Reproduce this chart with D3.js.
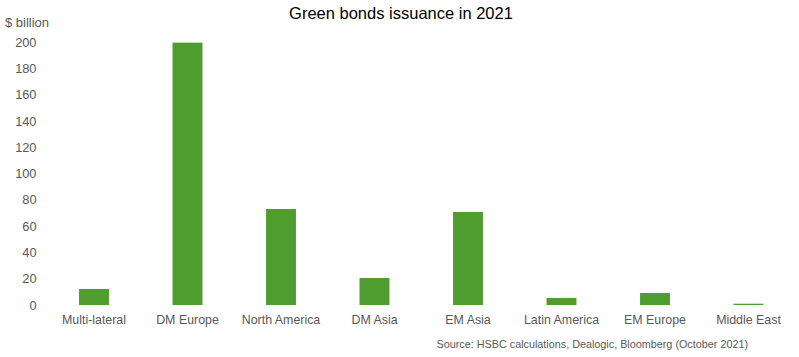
<!DOCTYPE html>
<html><head><meta charset="utf-8">
<script src="https://cdn.jsdelivr.net/npm/d3@7"></script>
<style>body{margin:0;background:#fff;} text{font-family:"Liberation Sans",Arial,sans-serif;}</style>
</head><body>
<svg id="chart" width="799" height="357"></svg>
<script>
const categories = ["Multi-lateral","DM Europe","North America","DM Asia","EM Asia","Latin America","EM Europe","Middle East"];
const values = [12.2, 199.5, 73, 20.5, 70.7, 5.3, 9.1, 1];
const yTicks = [0,20,40,60,80,100,120,140,160,180,200];
const title = "Green bonds issuance in 2021";
const unitLabel = "$ billion";
const source = "Source: HSBC calculations, Dealogic, Bloomberg (October 2021)";

const svg = d3.select("#chart");
const x = d3.scaleBand().domain(categories).range([47.25, 795.25]).paddingInner(0.68).paddingOuter(0.34);
const y = d3.scaleLinear().domain([0,200]).range([305, 42]);

svg.append("text").attr("x", 401).attr("y", 19).attr("text-anchor","middle")
  .attr("font-size", 16.5).attr("fill","#000").text(title);
svg.append("text").attr("x", 5).attr("y", 27).attr("font-size", 13).attr("fill","#595959").text(unitLabel);

const yAxis = svg.append("g").attr("transform","translate(36.5,0)")
  .call(d3.axisLeft(y).tickValues(yTicks).tickSize(0).tickPadding(0));
yAxis.select(".domain").remove();
yAxis.selectAll("text").attr("font-size",12.8).attr("fill","#595959").attr("font-family","Liberation Sans, Arial, sans-serif");

svg.append("g").selectAll("rect").data(categories).join("rect")
  .attr("x", d => x(d)).attr("width", x.bandwidth())
  .attr("y", (d,i) => y(values[i])).attr("height", (d,i) => y(0) - y(values[i]))
  .attr("fill", "#4f9c2f");

const xAxis = svg.append("g").attr("transform","translate(0,305)")
  .call(d3.axisBottom(x).tickSize(0).tickPadding(10));
xAxis.select(".domain").remove();
xAxis.selectAll("text").attr("font-size",12.4).attr("fill","#595959").attr("font-family","Liberation Sans, Arial, sans-serif");

svg.append("text").attr("x", 748).attr("y", 348).attr("text-anchor","end")
  .attr("font-size", 10.8).attr("fill","#595959").text(source);
</script>
</body></html>
